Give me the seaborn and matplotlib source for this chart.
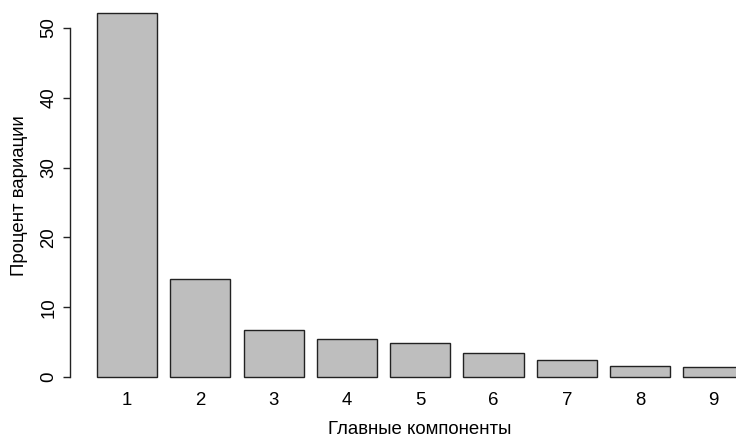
import matplotlib
matplotlib.use("Agg")
import matplotlib.pyplot as plt
import seaborn as sns
import pandas as pd

components = ["1", "2", "3", "4", "5", "6", "7", "8", "9"]
variance_pct = [52.1, 14.1, 6.7, 5.45, 4.9, 3.4, 2.45, 1.6, 1.45]
y_ticks = [0, 10, 20, 30, 40, 50]

df = pd.DataFrame({"component": components, "pct": variance_pct})

sns.set_style("white")
plt.rcParams["font.family"] = ["Liberation Sans", "DejaVu Sans"]
plt.rcParams["text.color"] = "black"
plt.rcParams["axes.labelcolor"] = "black"
plt.rcParams["xtick.color"] = "black"
plt.rcParams["ytick.color"] = "black"

W, H = 736, 437
fig = plt.figure(figsize=(W / 100, H / 100), dpi=100)

# axes placed in pixel terms: left spine at x=70, right edge at figure edge
left_px, right_px = 70, 736
top_px, bottom_px = 5, 384
ax = fig.add_axes([left_px / W, 1 - bottom_px / H,
                   (right_px - left_px) / W, (bottom_px - top_px) / H])

sns.barplot(data=df, x="component", y="pct", ax=ax, width=0.82,
            color="#BEBEBE", saturation=1, edgecolor="#222222", linewidth=1.0)

step = 73.3
ax.set_xlim(-(127 - left_px) / step, (right_px - 127) / step)
px_per_unit = 6.98
ax.set_ylim(-(bottom_px - 377) / px_per_unit, (377 - top_px) / px_per_unit)

fs = 13.4
ax.set_yticks(y_ticks)
ax.set_yticklabels([str(t) for t in y_ticks], rotation=90, va="center", fontsize=fs)
ax.tick_params(axis="y", left=True, direction="out", length=5, width=1, pad=4,
               color="#222222")
ax.tick_params(axis="x", bottom=False, length=0, pad=6, labelsize=fs)

for s in ["top", "right", "bottom"]:
    ax.spines[s].set_visible(False)
ax.spines["left"].set_bounds(0, 50)
ax.spines["left"].set_color("#222222")
ax.spines["left"].set_linewidth(1)

ax.set_xlabel("Главные компоненты", fontsize=fs)
ax.set_ylabel("Процент вариации", fontsize=fs)
# the x title is centred under the full plotting region, which runs past the right edge
ax.xaxis.set_label_coords((420 - left_px) / (right_px - left_px), -(429 - bottom_px) / (bottom_px - top_px))
ax.yaxis.set_label_coords(-(70 - 20) / (right_px - left_px), (bottom_px - 196) / (bottom_px - top_px))
ax.xaxis.label.set_va("center")
ax.yaxis.label.set_va("center")

fig.savefig("out.png", dpi=100)
